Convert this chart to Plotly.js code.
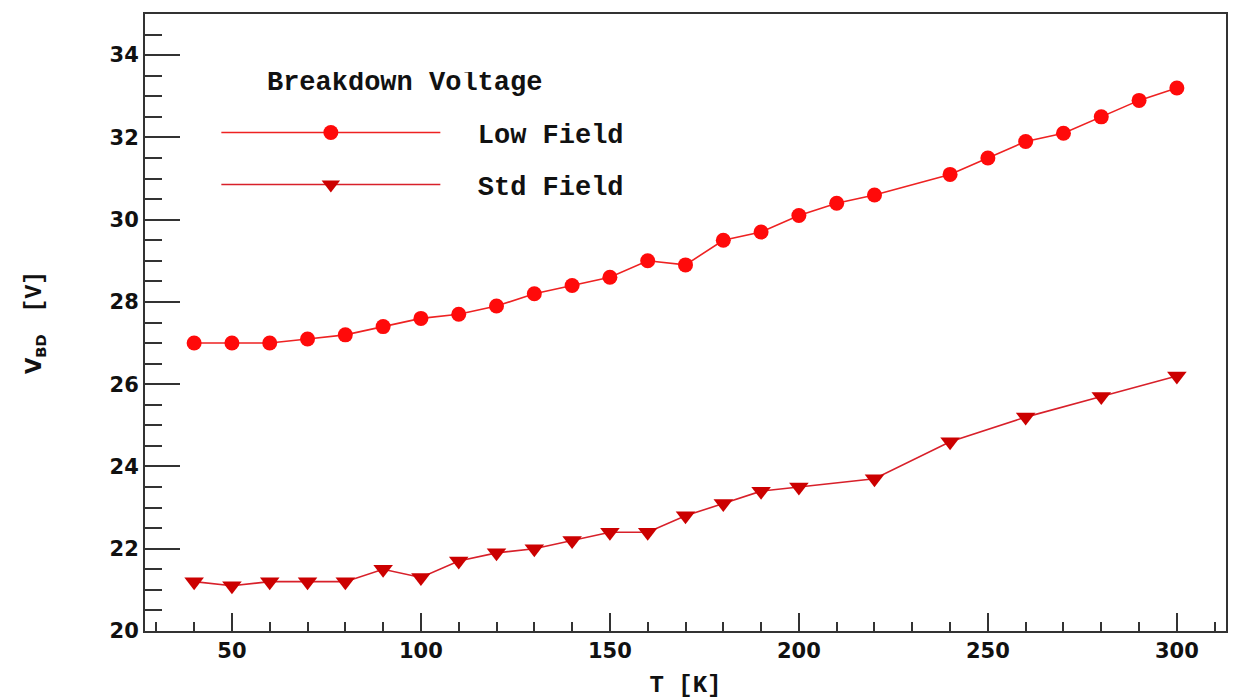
<!DOCTYPE html>
<html>
<head>
<meta charset="utf-8">
<script src="https://cdn.plot.ly/plotly-3.0.1.min.js"></script>
<style>html,body{margin:0;padding:0;background:#fff;}#chart{width:1238px;height:699px;}</style>
</head>
<body>
<div id="chart"></div>
<script>
// Temperature values [K]
const lowT = [40,50,60,70,80,90,100,110,120,130,140,150,160,170,180,190,200,210,220,240,250,260,270,280,290,300];
const lowV = [27.0,27.0,27.0,27.1,27.2,27.4,27.6,27.7,27.9,28.2,28.4,28.6,29.0,28.9,29.5,29.7,30.1,30.4,30.6,31.1,31.5,31.9,32.1,32.5,32.9,33.2];
const stdT = [40,50,60,70,80,90,100,110,120,130,140,150,160,170,180,190,200,220,240,260,280,300];
const stdV = [21.2,21.1,21.2,21.2,21.2,21.5,21.3,21.7,21.9,22.0,22.2,22.4,22.4,22.8,23.1,23.4,23.5,23.7,24.6,25.2,25.7,26.2];
const seriesNames = ["Low Field", "Std Field"];
const legendTitle = "Breakdown Voltage";

const mono = "Liberation Mono, Courier New, monospace";
const sans = "DejaVu Sans, Verdana, sans-serif";

const traces = [
  {x: lowT, y: lowV, name: "&nbsp;&nbsp;" + seriesNames[0], type: "scatter", mode: "lines+markers",
   legendgroup: "a",
   line: {color: "#ee2222", width: 1.6},
   marker: {symbol: "circle", size: 15, color: "#ff0a0a"}},
  {x: stdT, y: stdV, name: "&nbsp;&nbsp;" + seriesNames[1], type: "scatter", mode: "lines+markers",
   legendgroup: "b",
   line: {color: "#d8202a", width: 1.6},
   marker: {symbol: "triangle-down", size: 17, color: "#cc0000"}}
];

const layout = {
  width: 1238, height: 699,
  paper_bgcolor: "#fff", plot_bgcolor: "#fff",
  margin: {l: 145, r: 12, t: 14, b: 68},
  showlegend: true,
  legend: {
    x: 0.066, y: 0.906, xanchor: "left", yanchor: "top",
    bgcolor: "rgba(0,0,0,0)", borderwidth: 0,
    traceorder: "grouped", tracegroupgap: 14,
    itemwidth: 219,
    font: {family: mono, size: 27, weight: "bold", color: "#111"},
    title: {text: "<span style='font-size:27px'>&nbsp;&nbsp;&nbsp;" + legendTitle + "</span><br>&nbsp;", side: "top",
            font: {family: mono, size: 14, weight: "bold", color: "#111"}}
  },
  xaxis: {
    range: [27, 313],
    showgrid: false, zeroline: false,
    showline: true, linecolor: "#333", linewidth: 2, mirror: true,
    ticks: "inside", ticklen: 18, tickwidth: 2, tickcolor: "#333",
    dtick: 50, tick0: 0,
    minor: {dtick: 10, ticks: "inside", ticklen: 9, tickwidth: 2, tickcolor: "#333", showgrid: false},
    tickfont: {family: sans, size: 21, weight: "bold", color: "#111"},
    title: {text: "T [K]", standoff: 22, font: {family: mono, size: 24, weight: "bold", color: "#111"}}
  },
  yaxis: {
    range: [20, 35],
    showgrid: false, zeroline: false,
    showline: true, linecolor: "#333", linewidth: 2, mirror: true,
    ticks: "inside", ticklen: 35, tickwidth: 2, tickcolor: "#333",
    dtick: 2, tick0: 0,
    minor: {dtick: 0.5, ticks: "inside", ticklen: 17, tickwidth: 2, tickcolor: "#333", showgrid: false},
    tickfont: {family: sans, size: 21, weight: "bold", color: "#111"},
    title: {text: "V<sub>BD</sub>&nbsp;&nbsp; <span style='font-family:Liberation Mono;font-size:23px'>[V]</span>", standoff: 62,
            font: {family: sans, size: 21, weight: "bold", color: "#111"}}
  }
};

Plotly.newPlot("chart", traces, layout, {displayModeBar: false, staticPlot: true});
</script>
</body>
</html>
